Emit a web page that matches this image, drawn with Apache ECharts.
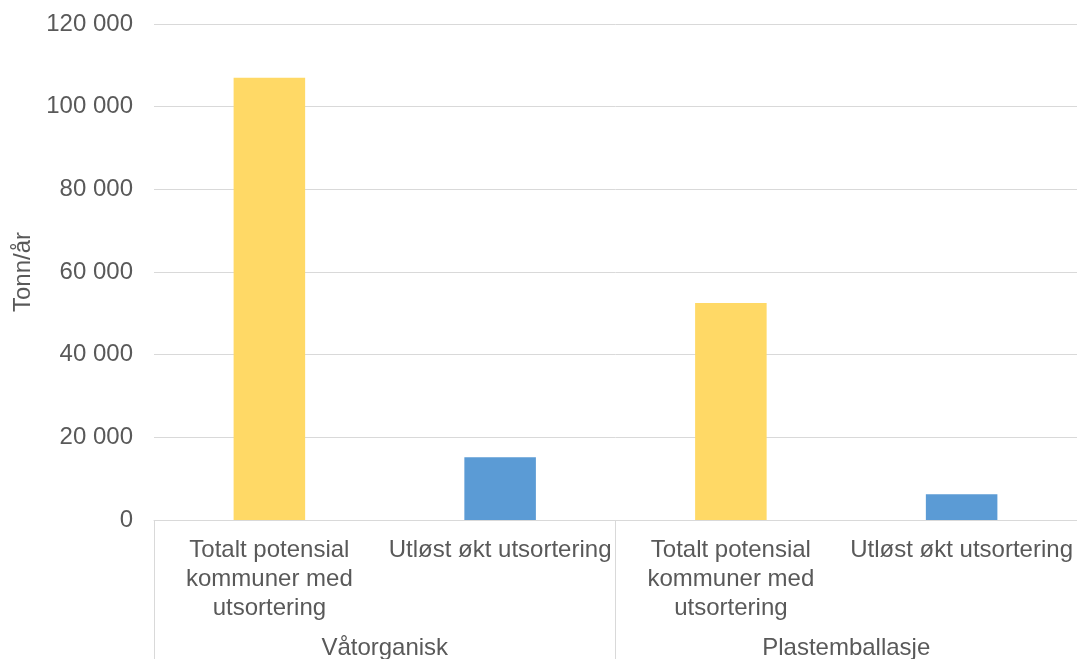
<!DOCTYPE html>
<html>
<head>
<meta charset="utf-8">
<script src="https://cdn.jsdelivr.net/npm/echarts@6/dist/echarts.min.js"></script>
<style>
  html, body { margin: 0; padding: 0; background: #ffffff; }
  #chart { width: 1077px; height: 659px; }
</style>
</head>
<body>
<div id="chart"></div>
<script>
// Leaf categories (one bar each) and the group each belongs to
const leafCategories = [
  'Totalt potensial kommuner med utsortering',
  'Utløst økt utsortering',
  'Totalt potensial kommuner med utsortering',
  'Utløst økt utsortering'
];
const groupCategories = ['Våtorganisk', 'Plastemballasje'];

// Tonnes per year for each leaf category
const values = [107000, 15200, 52500, 6200];

// Y axis range and step
const yMin = 0;
const yMax = 120000;
const yStep = 20000;

const FONT = '"Liberation Sans", Arial, sans-serif';
const TEXT = '#595959';
const LINE = '#d9d9d9';
const YELLOW = '#FFD966';
const BLUE = '#5B9BD5';

const fmt = v => String(v).replace(/\B(?=(\d{3})+(?!\d))/g, ' ');

// Greedy word wrap of a label to a maximum pixel width
const measureCtx = document.createElement('canvas').getContext('2d');
measureCtx.font = '24px ' + FONT;
function wrap(text, maxWidth) {
  const words = text.split(' ');
  const lines = [];
  let line = '';
  for (const w of words) {
    const trial = line ? line + ' ' + w : w;
    if (line && measureCtx.measureText(trial).width > maxWidth) {
      lines.push(line);
      line = w;
    } else {
      line = trial;
    }
  }
  if (line) lines.push(line);
  return lines.join('\n');
}

const chart = echarts.init(document.getElementById('chart'), null, { renderer: 'canvas' });

chart.setOption({
  animation: false,
  backgroundColor: '#ffffff',
  grid: {
    left: 154, right: 0, top: 24, bottom: 139,
    containLabel: false,
    outerBoundsMode: 'none'
  },
  xAxis: [
    {
      type: 'category',
      data: leafCategories,
      position: 'bottom',
      axisLine: { show: true, lineStyle: { color: LINE, width: 1 } },
      axisTick: { show: false },
      axisLabel: {
        interval: 0,
        hideOverlap: false,
        margin: 16,
        color: TEXT,
        fontFamily: FONT,
        fontSize: 24,
        lineHeight: 29,
        align: 'center',
        formatter: v => wrap(v, 230)
      }
    },
    {
      type: 'category',
      data: groupCategories,
      position: 'bottom',
      boundaryGap: true,
      axisLine: { show: false },
      axisTick: { show: true, length: 140, lineStyle: { color: LINE, width: 1 } },
      axisLabel: {
        interval: 0,
        margin: 114,
        color: TEXT,
        fontFamily: FONT,
        fontSize: 24,
        lineHeight: 29
      }
    }
  ],
  yAxis: {
    type: 'value',
    min: yMin,
    max: yMax,
    interval: yStep,
    name: 'Tonn/år',
    nameLocation: 'middle',
    nameRotate: 90,
    nameGap: 118,
    nameTextStyle: { color: TEXT, fontFamily: FONT, fontSize: 24 },
    axisLine: { show: false },
    axisTick: { show: false },
    axisLabel: {
      margin: 21,
      color: TEXT,
      fontFamily: FONT,
      fontSize: 24,
      formatter: v => fmt(v)
    },
    splitLine: { show: true, lineStyle: { color: LINE, width: 1 } }
  },
  series: [
    {
      type: 'bar',
      xAxisIndex: 0,
      barWidth: '31%',
      data: values.map((v, i) => ({
        value: v,
        itemStyle: { color: i % 2 === 0 ? YELLOW : BLUE }
      }))
    }
  ]
});
</script>
</body>
</html>
